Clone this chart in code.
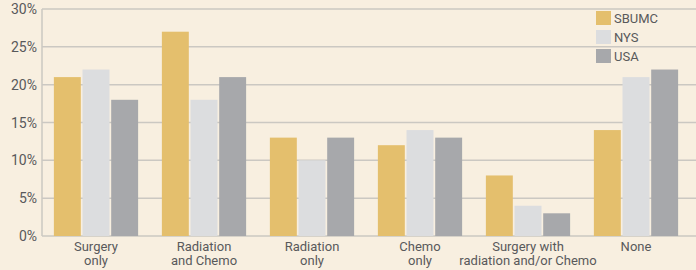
<!DOCTYPE html>
<html>
<head>
<meta charset="utf-8">
<script src="https://cdn.jsdelivr.net/npm/d3@7"></script>
<style>
  html, body { margin: 0; padding: 0; background: #f8efe0; }
  svg { display: block; font-family: Roboto, "Liberation Sans", sans-serif; }
</style>
</head>
<body>
<div id="chart"></div>
<script>
const categories = [
  ['Surgery', 'only'],
  ['Radiation', 'and Chemo'],
  ['Radiation', 'only'],
  ['Chemo', 'only'],
  ['Surgery with', 'radiation and/or Chemo'],
  ['None']
];
const seriesNames = ['SBUMC', 'NYS', 'USA'];
const sbumc = [21, 27, 13, 12, 8, 14];
const nys = [22, 18, 10, 14, 4, 21];
const usa = [18, 21, 13, 13, 3, 22];
const yTicks = [0, 5, 10, 15, 20, 25, 30];

const colors = ['#e4bf6d', '#dcdddf', '#a7a8ab'];
const values = [sbumc, nys, usa];

const width = 696;
const height = 270;
const margin = { top: 9, right: 6, bottom: 34, left: 42 };

const svg = d3
  .select('#chart')
  .append('svg')
  .attr('width', width)
  .attr('height', height);

svg.append('rect').attr('width', width).attr('height', height).attr('fill', '#f8efe0');

const keys = categories.map((c, i) => i);

const x = d3
  .scaleBand()
  .domain(keys)
  .range([margin.left, width - margin.right])
  .paddingInner(0.22)
  .paddingOuter(0.11);

const xInner = d3
  .scaleBand()
  .domain(seriesNames)
  .range([0, x.bandwidth()])
  .paddingInner(0.06);

const y = d3
  .scaleLinear()
  .domain([0, 30])
  .range([height - margin.bottom, margin.top]);

// grid lines
svg
  .append('g')
  .selectAll('line')
  .data(yTicks)
  .join('line')
  .attr('x1', margin.left)
  .attr('x2', width)
  .attr('y1', (d) => y(d))
  .attr('y2', (d) => y(d))
  .attr('stroke', '#cbc8c2')
  .attr('stroke-width', 1.5);

// y axis line
svg
  .append('line')
  .attr('x1', margin.left)
  .attr('x2', margin.left)
  .attr('y1', y(30))
  .attr('y2', y(0))
  .attr('stroke', '#cbc8c2')
  .attr('stroke-width', 1.5);

// y tick labels
svg
  .append('g')
  .selectAll('text')
  .data(yTicks)
  .join('text')
  .attr('x', margin.left - 5)
  .attr('y', (d) => y(d) + 5)
  .attr('text-anchor', 'end')
  .style('font-size', '14px')
  .attr('fill', '#58595b')
  .text((d) => d + '%');

// bars
const groups = svg
  .append('g')
  .selectAll('g')
  .data(keys)
  .join('g')
  .attr('transform', (i) => `translate(${x(i)},0)`);

groups
  .selectAll('rect')
  .data((i) => seriesNames.map((name, s) => ({ name, s, v: values[s][i] })))
  .join('rect')
  .attr('x', (d) => xInner(d.name))
  .attr('y', (d) => y(d.v))
  .attr('width', xInner.bandwidth())
  .attr('height', (d) => y(0) - y(d.v))
  .attr('fill', (d) => colors[d.s]);

// category labels
const labels = svg
  .append('g')
  .selectAll('text')
  .data(keys)
  .join('text')
  .attr('x', (i) => x(i) + x.bandwidth() / 2)
  .attr('y', 251)
  .attr('text-anchor', 'middle')
  .style('font-size', '13px')
  .attr('fill', '#58595b');

labels
  .selectAll('tspan')
  .data((i) => categories[i])
  .join('tspan')
  .attr('x', function () { return this.parentNode.getAttribute('x'); })
  .attr('dy', (d, j) => (j === 0 ? 0 : 14))
  .text((d) => d);

// legend
const legend = svg
  .append('g')
  .selectAll('g')
  .data(seriesNames)
  .join('g')
  .attr('transform', (d, i) => `translate(596, ${11 + i * 19})`);

legend
  .append('rect')
  .attr('width', 15)
  .attr('height', 14)
  .attr('fill', (d, i) => colors[i]);

legend
  .append('text')
  .attr('x', 18)
  .attr('y', 12)
  .style('font-size', '13px')
  .attr('fill', '#58595b')
  .text((d) => d);
</script>
</body>
</html>
